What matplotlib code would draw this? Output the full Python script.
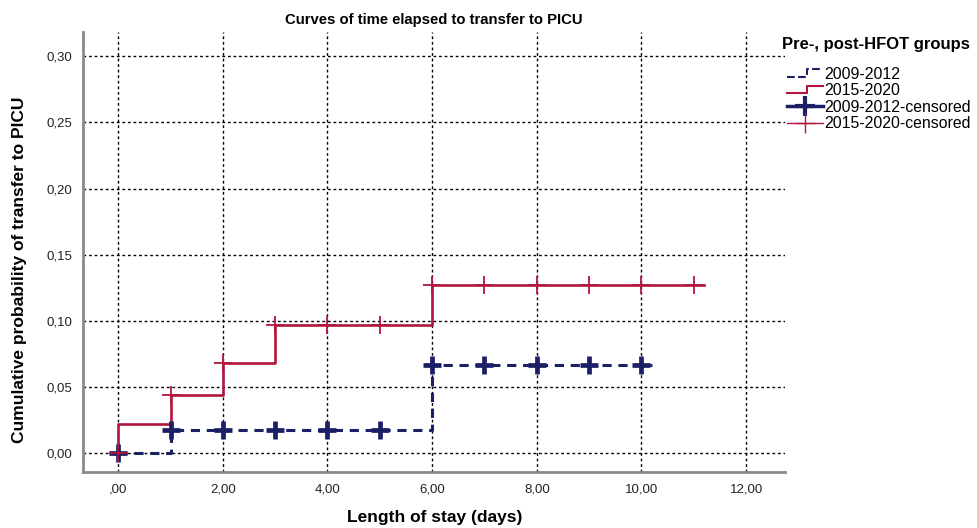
import matplotlib
matplotlib.use('Agg')
import matplotlib.pyplot as plt
from matplotlib.lines import Line2D
from matplotlib.legend_handler import HandlerBase

plt.rcParams['font.family'] = ['Liberation Sans', 'DejaVu Sans']

# Step curves (cumulative probability of transfer)
pre_t = [0, 1, 6, 10.2]
pre_p = [0.0, 0.018, 0.067, 0.067]
post_t = [0, 0, 1, 2, 3, 6, 11.2]
post_p = [0.0, 0.022, 0.044, 0.068, 0.097, 0.127, 0.127]

# Censored observations
pre_cens_t = [0, 1, 2, 3, 4, 5, 6, 7, 8, 9, 10]
pre_cens_p = [0.0, 0.018, 0.018, 0.018, 0.018, 0.018, 0.067, 0.067, 0.067, 0.067, 0.067]
post_cens_t = [0, 1, 2, 3, 4, 5, 6, 7, 8, 9, 10, 11]
post_cens_p = [0.0, 0.044, 0.068, 0.097, 0.097, 0.097, 0.127, 0.127, 0.127, 0.127, 0.127, 0.127]

x_ticks = [0, 2, 4, 6, 8, 10, 12]
x_labels = [',00', '2,00', '4,00', '6,00', '8,00', '10,00', '12,00']
y_ticks = [0.0, 0.05, 0.10, 0.15, 0.20, 0.25, 0.30]
y_labels = ['0,00', '0,05', '0,10', '0,15', '0,20', '0,25', '0,30']

BLUE = '#1b1f66'
RED = '#b3163c'


class HandlerStep(HandlerBase):
    # draws a little step shape in the legend like SPSS does
    def create_artists(self, legend, orig, xdescent, ydescent, width, height, fontsize, trans):
        xs = [0, width * 0.55, width * 0.55, width]
        ys = [height * 0.15, height * 0.15, height * 0.85, height * 0.85]
        ln = Line2D(xs, ys, color=orig.get_color(), linestyle=orig.get_linestyle(),
                    linewidth=1.5, transform=trans)
        return [ln]


fig = plt.figure(figsize=(9.78, 5.28), dpi=100)
ax = fig.add_axes([0.085, 0.106, 0.718, 0.833])

ax.step(pre_t, pre_p, where='post', color=BLUE, lw=2.2, linestyle=(0, (3, 2.2)), zorder=3)
ax.step(post_t, post_p, where='post', color=RED, lw=1.9, zorder=4)
ax.plot(pre_cens_t, pre_cens_p, linestyle='none', marker='+', color=BLUE,
        markersize=13, markeredgewidth=3.4, zorder=5)
ax.plot(post_cens_t, post_cens_p, linestyle='none', marker='+', color=RED,
        markersize=13, markeredgewidth=1.3, zorder=6)

ax.set_xlim(-0.67, 12.75)
ax.set_ylim(-0.014, 0.318)
ax.set_xticks(x_ticks)
ax.set_xticklabels(x_labels)
ax.set_yticks(y_ticks)
ax.set_yticklabels(y_labels)
ax.tick_params(length=0, labelsize=9.5, colors='#222222', pad=8)
ax.grid(True, color='black', linestyle=(0, (2, 2)), linewidth=1.0)
ax.set_axisbelow(True)

for s in ['top', 'right']:
    ax.spines[s].set_visible(False)
for s in ['left', 'bottom']:
    ax.spines[s].set_color('#8a8a8a')
    ax.spines[s].set_linewidth(2)

ax.set_title('Curves of time elapsed to transfer to PICU', fontsize=10.7, fontweight='bold', pad=6)
ax.set_xlabel('Length of stay (days)', fontsize=12.5, fontweight='bold', labelpad=11)
ax.set_ylabel('Cumulative probability of transfer to PICU', fontsize=12.5, fontweight='bold')
ax.yaxis.set_label_coords(-0.08, 0.46)

h_pre = Line2D([], [], color=BLUE, linestyle=(0, (3, 2)))
h_post = Line2D([], [], color=RED, linestyle='-')
h_pre_c = Line2D([], [], color=BLUE, lw=2.5, marker='+', markersize=14, markeredgewidth=3)
h_post_c = Line2D([], [], color=RED, lw=1, marker='+', markersize=14, markeredgewidth=1)

fig.text(0.8, 0.915, 'Pre-, post-HFOT groups', fontsize=12, fontweight='bold',
         ha='left', va='center')
leg = fig.legend([h_pre, h_post, h_pre_c, h_post_c],
                 ['2009-2012', '2015-2020', '2009-2012-censored', '2015-2020-censored'],
                 handler_map={h_pre: HandlerStep(), h_post: HandlerStep()},
                 loc='upper left', bbox_to_anchor=(0.793, 0.895), frameon=False,
                 fontsize=11.4, handlelength=2.3,
                 handletextpad=0.1, labelspacing=0.1, borderpad=0.2)

fig.savefig('out.png', dpi=100)
